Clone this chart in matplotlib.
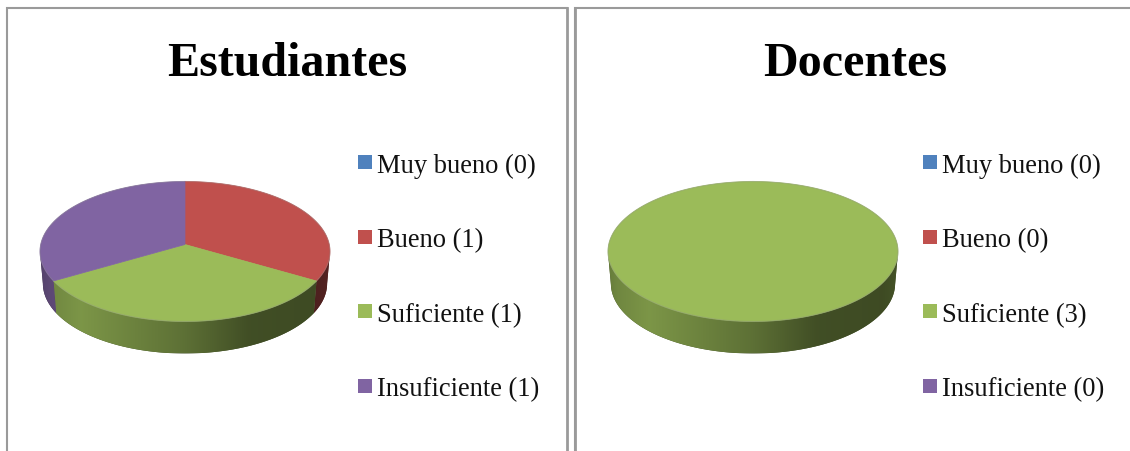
import numpy as np
import matplotlib
matplotlib.use('Agg')
import matplotlib.pyplot as plt
from matplotlib.patches import Polygon, Rectangle

categorias = ['Muy bueno', 'Bueno', 'Suficiente', 'Insuficiente']
estudiantes = [0, 1, 1, 1]
docentes = [0, 0, 3, 0]
titulos = ['Estudiantes', 'Docentes']
colores = ['#4F81BD', '#C0504D', '#9BBB59', '#8064A2']

plt.rcParams['font.family'] = ['Liberation Serif', 'DejaVu Serif']

fig = plt.figure(figsize=(11.3, 4.52), dpi=100)
ax = fig.add_axes([0, 0, 1, 1])
ax.set_xlim(0, 1130)
ax.set_ylim(452, 0)
ax.axis('off')

# tamaño del pastel en pixeles
RX, RY = 145, 70
CY = 252.5
DEPTH = 32
TILT = 0.1   # el centro aparece un poco mas arriba por la perspectiva
BASE_ESCALA = 0.98   # el borde de abajo es un poco mas angosto


def proyectar(theta, cx):
    u = np.sin(theta)
    v = np.cos(theta)
    d = 1 + TILT * v
    X = u * np.sqrt(1 - TILT ** 2) / d
    Y = (v + TILT) / d
    return cx + RX * X, CY - RY * Y


def sombra(f):
    return np.interp(f, [0, 0.03, 0.14, 0.5, 0.72, 0.95, 1], [0.66, 0.72, 0.8, 0.6, 0.42, 0.4, 0.44])


def pastel(ax, valores, cx):
    total = sum(valores)
    inicio = 0.0
    f = np.linspace(0, 1, 300)
    for val, col in zip(valores, colores):
        if val == 0:
            continue
        fin = inicio + 2 * np.pi * val / total
        th = np.linspace(inicio, fin, 400)
        x, y = proyectar(th, cx)
        # pared lateral, solo la parte de adelante
        frente = y >= CY
        if frente.any():
            xf, yf = x[frente], y[frente]
            if val == total:
                orden = np.argsort(xf)
                xf, yf = xf[orden], yf[orden]
            xb = cx + (xf - cx) * BASE_ESCALA
            pts = np.column_stack([np.r_[xf, xb[::-1]], np.r_[yf, yf[::-1] + DEPTH]])
            base = np.array(matplotlib.colors.to_rgb(col))
            pared = Polygon(pts, closed=True, fc=base * 0.42, ec='none', zorder=1)
            ax.add_patch(pared)
            img = np.outer(sombra(f), base).reshape(1, -1, 3)
            im = ax.imshow(img, extent=[cx - RX, cx + RX, CY + RY + DEPTH, CY - RY],
                           aspect='auto', zorder=2, interpolation='bilinear')
            im.set_clip_path(pared)
        # cara superior
        if val == total:
            pts = np.column_stack([x, y])
        else:
            apex = (cx, CY - RY * TILT)
            pts = np.vstack([apex, np.column_stack([x, y])])
        ax.add_patch(Polygon(pts, closed=True, fc=col, ec=col, lw=0.5, zorder=3))
        inicio = fin
    th = np.linspace(0, 2 * np.pi, 400)
    x, y = proyectar(th, cx)
    ax.plot(x, y, color='#8a8a8a', lw=0.8, alpha=0.3, zorder=4)


def leyenda(ax, valores, x0):
    for i, (cat, val, col) in enumerate(zip(categorias, valores, colores)):
        yc = 163 + i * 74.7
        ax.add_patch(Rectangle((x0, yc - 7), 14, 14, fc=col, ec='none', zorder=3))
        ax.text(x0 + 19, yc, f'{cat} ({val})', fontsize=19.1, color='#111111', va='center_baseline', ha='left')


# marcos
gris = '#9a9a9a'
for x0, x1 in [(7, 567), (575, 1135)]:
    ax.plot([x1, x0, x0], [9, 9, 460], color=gris, lw=1.5, solid_joinstyle='miter')
ax.plot([567, 567], [9, 460], color=gris, lw=2)
ax.plot([575, 575], [9, 460], color=gris, lw=2)

pastel(ax, estudiantes, 185)
pastel(ax, docentes, 753)
leyenda(ax, estudiantes, 358)
leyenda(ax, docentes, 923)

ax.text(287, 59, titulos[0], fontsize=34.6, fontweight='bold', ha='center', va='center_baseline', color='black')
ax.text(855, 59, titulos[1], fontsize=34.6, fontweight='bold', ha='center', va='center_baseline', color='black')

ax.set_xlim(0, 1130)
ax.set_ylim(452, 0)
fig.savefig('out.png', dpi=100, facecolor='white')
